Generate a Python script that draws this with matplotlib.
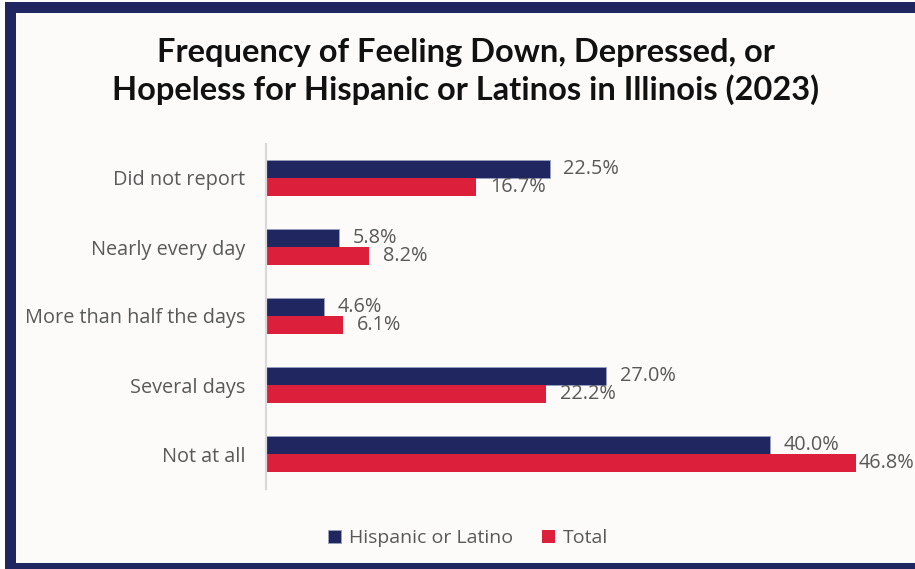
import matplotlib
matplotlib.use("Agg")
import matplotlib.pyplot as plt
from matplotlib.patches import Rectangle
import numpy as np

categories = ["Did not report", "Nearly every day", "More than half the days",
              "Several days", "Not at all"]
hispanic = [22.5, 5.8, 4.6, 27.0, 40.0]
total = [16.7, 8.2, 6.1, 22.2, 46.8]
series_names = ["Hispanic or Latino", "Total"]
title = "Frequency of Feeling Down, Depressed, or\nHopeless for Hispanic or Latinos in Illinois (2023)"

NAVY = "#1f2660"
RED = "#dc1f3a"
GRAY = "#595959"
BG = "#fcfbf9"

title_font = "Lato"
body_font = "Open Sans"

W, H = 915, 569
fig = plt.figure(figsize=(W / 100, H / 100), dpi=100, facecolor="white")

# panel background and frame
fig.patches.append(Rectangle((5 / W, 0), 1, 1 - 2 / H, transform=fig.transFigure,
                             facecolor=BG, edgecolor="none", zorder=-2))
frame = dict(transform=fig.transFigure, facecolor=NAVY, edgecolor="none", zorder=-1)
fig.patches.append(Rectangle((5 / W, 1 - 13 / H), 1, 11 / H, **frame))   # top
fig.patches.append(Rectangle((5 / W, 0), 11 / W, 1 - 2 / H, **frame))     # left
fig.patches.append(Rectangle((5 / W, 0), 1, 6 / H, **frame))              # bottom

ax = fig.add_axes([266 / W, 1 - 488.5 / H, 630 / W, 345 / H])
ax.set_facecolor("none")
ax.set_zorder(2)

y = np.arange(len(categories))
h = 0.265
b1 = ax.barh(y - h / 2, hispanic, height=h, color=NAVY, edgecolor="#9aa0c0",
             linewidth=0.6, label=series_names[0])
b2 = ax.barh(y + h / 2, total, height=h, color=RED, edgecolor="none",
             label=series_names[1])

value_labels = []
for bars, vals in ((b1, hispanic), (b2, total)):
    for rect, v in zip(bars, vals):
        t = ax.annotate(f"{v:.1f}%", (v, rect.get_y() + rect.get_height() / 2),
                        xytext=(10, 0), textcoords="offset points", va="center",
                        ha="left", fontsize=14.3, color=GRAY, family=body_font,
                        annotation_clip=False)
        value_labels.append(t)

ax.set_xlim(0, 50)
ax.set_ylim(len(categories) - 0.5, -0.5)
ax.set_yticks(y)
ax.set_yticklabels(categories, fontsize=14.3, color=GRAY, family=body_font)
ax.tick_params(axis="y", length=0, pad=15)
ax.set_xticks([])
for s in ("top", "right", "bottom"):
    ax.spines[s].set_visible(False)
ax.spines["left"].set_color("#d9d9d9")
ax.spines["left"].set_linewidth(1.6)

fig.text(466 / W, 1 - 71.5 / H, title, ha="center", va="center", fontsize=23.5,
         fontweight="bold", family=title_font, color="#111111", linespacing=1.3)

leg = fig.legend(handles=[b1, b2], labels=series_names, loc="center",
                 bbox_to_anchor=(468 / W, 1 - 538 / H), ncol=2, frameon=False,
                 prop={"family": body_font, "size": 14}, handlelength=0.68,
                 handleheight=0.68, handletextpad=0.4, columnspacing=1.5)
for t in leg.get_texts():
    t.set_color(GRAY)

# pull any value label that runs past the right edge back inside the panel
renderer = fig.canvas.get_renderer()
for t in value_labels:
    ext = t.get_window_extent(renderer)
    over = ext.x1 - (W - 2)
    if over > 0:
        x_off, y_off = t.xyann
        t.xyann = (max(x_off - over * 72 / fig.dpi, 2), y_off)

fig.savefig("out.png", dpi=100, facecolor="white")
